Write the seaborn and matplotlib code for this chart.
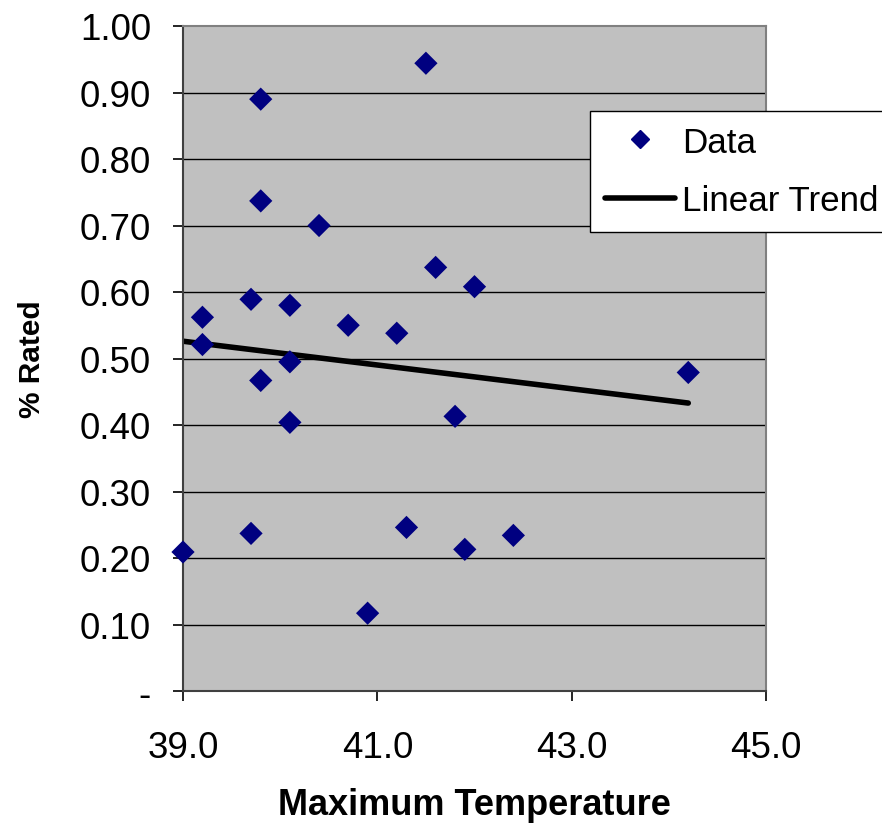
import numpy as np
import pandas as pd
import matplotlib
matplotlib.use("Agg")
import matplotlib.pyplot as plt
import seaborn as sns
from matplotlib.lines import Line2D

max_temp = [39.0, 39.2, 39.2, 39.7, 39.7, 39.8, 39.8, 39.8, 40.1, 40.1, 40.1,
            40.4, 40.7, 40.9, 41.2, 41.3, 41.5, 41.6, 41.8, 41.9, 42.0, 42.4, 44.2]
pct_rated = [0.209, 0.521, 0.562, 0.237, 0.589, 0.890, 0.737, 0.467, 0.495, 0.580, 0.404,
             0.700, 0.550, 0.117, 0.538, 0.246, 0.944, 0.637, 0.413, 0.213, 0.608, 0.234, 0.479]
trend_x = [39.0, 44.2]
trend_y = [0.526, 0.433]
x_ticks = [39.0, 41.0, 43.0, 45.0]
x_tick_labels = ["39.0", "41.0", "43.0", "45.0"]
y_ticks = [0.0, 0.1, 0.2, 0.3, 0.4, 0.5, 0.6, 0.7, 0.8, 0.9, 1.0]
y_tick_labels = ["-", "0.10", "0.20", "0.30", "0.40", "0.50", "0.60", "0.70", "0.80", "0.90", "1.00"]

sns.set_style("white")
plt.rcParams['font.family'] = ['Liberation Sans', 'DejaVu Sans']
plt.rcParams['text.color'] = 'black'
plt.rcParams['axes.labelcolor'] = 'black'
plt.rcParams['xtick.color'] = 'black'
plt.rcParams['ytick.color'] = 'black'

df = pd.DataFrame({"Maximum Temperature": max_temp, "% Rated": pct_rated})

fig = plt.figure(figsize=(8.82, 8.28), dpi=100)
ax = fig.add_axes([183/882, 1-692/828, (766-183)/882, (692-27)/828])
ax.set_facecolor("#C0C0C0")

for yv in y_ticks[1:-1]:
    ax.axhline(yv, color="black", lw=1.0, zorder=1)

sns.lineplot(x=trend_x, y=trend_y, ax=ax, color="black", linewidth=4.0, zorder=2, legend=False)
sns.scatterplot(data=df, x="Maximum Temperature", y="% Rated", ax=ax, marker="D",
                s=140, color="#000080", edgecolor="none", linewidth=0, zorder=3,
                legend=False, clip_on=False)

ax.set_xlim(39.0, 45.0)
ax.set_ylim(0.0, 1.0)
ax.set_xticks(x_ticks)
ax.set_xticklabels(x_tick_labels)
ax.set_yticks(y_ticks)
ax.set_yticklabels(y_tick_labels)
ax.tick_params(axis="both", labelsize=26.5, direction="out", color="black", width=1.2,
               labelcolor="black")
ax.tick_params(axis="y", length=7, pad=16, left=True)
ax.tick_params(axis="x", length=7, pad=21, bottom=True)

for side in ["top", "right"]:
    ax.spines[side].set_color("#808080")
    ax.spines[side].set_linewidth(1.5)
ax.spines["left"].set_color("#404040")
ax.spines["left"].set_linewidth(1.5)
ax.spines["bottom"].set_color("#404040")
ax.spines["bottom"].set_linewidth(1.5)
for s in ax.spines.values():
    s.set_visible(True)

ax.set_xlabel("Maximum Temperature", fontsize=26, fontweight="bold", labelpad=16, color="black")
ax.set_ylabel("% Rated", fontsize=21.5, fontweight="bold", labelpad=24, color="black")

handles = [Line2D([], [], marker="D", color="#000080", ls="none", markersize=9),
           Line2D([], [], color="black", lw=4.0)]
leg = ax.legend(handles, ["Data", "Linear Trend"], loc="upper left",
                bbox_to_anchor=((590-183)/583, 1-(112-27)/665), fontsize=25.2,
                frameon=True, fancybox=False, framealpha=1, edgecolor="black",
                borderpad=0.42, handlelength=2.0, handletextpad=0.2, labelspacing=0.72,
                borderaxespad=0)
leg.get_frame().set_linewidth(1.0)
for t in leg.get_texts():
    t.set_color("black")

fig.savefig("out.png", dpi=100)
